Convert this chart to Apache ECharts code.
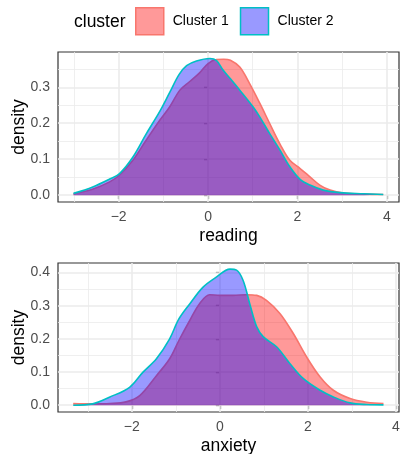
<!DOCTYPE html>
<html>
<head>
<meta charset="utf-8">
<script src="https://cdn.jsdelivr.net/npm/echarts@6/dist/echarts.min.js"></script>
<style>
  html, body { margin: 0; padding: 0; background: #fff; }
  #chart { width: 400px; height: 454px; }
</style>
</head>
<body>
<div id="chart"></div>
<script>
// Kernel density estimates of the two clusters, one panel per variable.
const clusterNames = ['Cluster 1', 'Cluster 2'];

// reading
const readingX1 = [-3.01, -2.6, -2.2, -1.98, -1.7, -1.4, -1.1, -0.86, -0.63, -0.41, -0.19, 0.0, 0.19, 0.35, 0.5, 0.71, 0.93, 1.16, 1.38, 1.61, 1.83, 2.06, 2.28, 2.5, 2.73, 3.03, 3.48, 3.92];
const readingD1 = [0.004, 0.016, 0.037, 0.056, 0.094, 0.150, 0.205, 0.245, 0.292, 0.316, 0.340, 0.366, 0.377, 0.378, 0.375, 0.356, 0.310, 0.255, 0.199, 0.142, 0.097, 0.074, 0.051, 0.028, 0.014, 0.006, 0.003, 0.002];
const readingX2 = [-3.01, -2.58, -2.2, -1.98, -1.68, -1.38, -1.08, -0.86, -0.65, -0.48, -0.26, 0.04, 0.19, 0.34, 0.49, 0.71, 1.01, 1.16, 1.38, 1.61, 1.83, 2.06, 2.28, 2.58, 2.95, 3.48, 3.92];
const readingD2 = [0.005, 0.023, 0.045, 0.060, 0.106, 0.171, 0.233, 0.285, 0.335, 0.360, 0.373, 0.380, 0.374, 0.347, 0.325, 0.292, 0.245, 0.217, 0.171, 0.125, 0.079, 0.044, 0.028, 0.014, 0.007, 0.004, 0.002];

// anxiety
const anxietyX1 = [-3.33, -2.89, -2.5, -2.13, -1.82, -1.44, -1.14, -0.93, -0.68, -0.46, -0.23, 0.0, 0.30, 0.61, 0.84, 1.06, 1.37, 1.67, 1.97, 2.28, 2.58, 2.96, 3.34, 3.72];
const anxietyD1 = [0.005, 0.004, 0.005, 0.010, 0.029, 0.089, 0.140, 0.195, 0.256, 0.306, 0.333, 0.331, 0.331, 0.333, 0.331, 0.316, 0.276, 0.216, 0.146, 0.085, 0.045, 0.020, 0.009, 0.005];
const anxietyX2 = [-3.33, -2.89, -2.51, -2.05, -1.75, -1.44, -1.14, -0.93, -0.68, -0.38, -0.08, 0.23, 0.38, 0.53, 0.68, 0.84, 0.99, 1.29, 1.59, 1.90, 2.28, 2.58, 2.96, 3.34, 3.72];
const anxietyD2 = [0.000, 0.004, 0.024, 0.054, 0.099, 0.140, 0.200, 0.260, 0.306, 0.356, 0.386, 0.410, 0.407, 0.376, 0.306, 0.236, 0.206, 0.176, 0.126, 0.080, 0.045, 0.025, 0.007, 0.002, 0.001];

// axis breaks
const xMajor = [-2, 0, 2, 4];
const xMinor = [-3, -1, 1, 3];
const readingYMajor = [0, 0.1, 0.2, 0.3];
const anxietyYMajor = [0, 0.1, 0.2, 0.3, 0.4];
const yMinor = [0.05, 0.15, 0.25, 0.35];

const FONT = 'Liberation Sans';
const fills = ['rgba(255,0,0,0.4)', 'rgba(0,0,255,0.4)'];
const outlines = ['#F8766D', '#00BFC4'];

function pairs(xs, ys) { return xs.map((x, i) => [x, ys[i]]); }

function gridLines(xs, ys, width) {
  return xs.map(v => ({ xAxis: v, lineStyle: { width } }))
    .concat(ys.map(v => ({ yAxis: v, lineStyle: { width } })));
}

function xAxisFor(idx, name, min, max) {
  return {
    type: 'value', gridIndex: idx, min, max,
    name, nameLocation: 'middle', nameGap: 25, nameMoveOverlap: false,
    nameTextStyle: { fontSize: 17.5, color: '#000', fontFamily: FONT },
    axisLine: { show: false },
    axisTick: { show: true, length: 4, customValues: xMajor, lineStyle: { color: '#333', width: 1.2 } },
    axisLabel: { customValues: xMajor, margin: 8, fontSize: 14, color: '#4D4D4D', fontFamily: FONT,
      formatter: v => String(v).replace('-', '\u2212') },
    splitLine: { show: false }
  };
}

function yAxisFor(idx, min, max, ticks) {
  return {
    type: 'value', gridIndex: idx, min, max,
    name: 'density', nameLocation: 'middle', nameGap: 30, nameRotate: 90, nameMoveOverlap: false,
    nameTextStyle: { fontSize: 17.5, color: '#000', fontFamily: FONT },
    axisLine: { show: false },
    axisTick: { show: true, length: 4, customValues: ticks, lineStyle: { color: '#333', width: 1.2 } },
    axisLabel: { customValues: ticks, margin: 8, fontSize: 14, color: '#4D4D4D', fontFamily: FONT,
      formatter: v => v.toFixed(1) },
    splitLine: { show: false }
  };
}

function densitySeries(idx, k, xs, ds, grid) {
  const s = {
    name: clusterNames[k], type: 'line', xAxisIndex: idx, yAxisIndex: idx,
    data: pairs(xs, ds), smooth: 0.35, showSymbol: false, symbol: 'none',
    z: 3 + k,
    itemStyle: { color: outlines[k] },
    lineStyle: { color: outlines[k], width: 1.6 },
    areaStyle: { color: fills[k], opacity: 1 },
    silent: true
  };
  if (grid) {
    s.markLine = {
      silent: true, symbol: 'none', z: 1, animation: false,
      label: { show: false },
      lineStyle: { color: '#EBEBEB', type: 'solid' },
      data: gridLines(xMajor, grid.yMajor, 1.6).concat(gridLines(xMinor, yMinor, 0.8))
    };
  }
  return s;
}

const chart = echarts.init(document.getElementById('chart'), null, { renderer: 'canvas' });
chart.setOption({
  animation: false,
  backgroundColor: '#fff',
  textStyle: { fontFamily: FONT },
  title: {
    text: 'cluster', left: 74, top: 13, padding: 0,
    textStyle: { fontSize: 17.5, fontWeight: 'normal', color: '#000', fontFamily: FONT }
  },
  legend: {
    left: 135, top: 7, padding: 0, icon: 'rect', itemWidth: 28, itemHeight: 27, itemGap: 11,
    selectedMode: false,
    textStyle: { fontSize: 14, color: '#000', fontFamily: FONT, padding: [0, 0, 0, 4] },
    data: clusterNames.map((n, k) => ({
      name: n, itemStyle: { color: fills[k], borderColor: outlines[k], borderWidth: 1.5 }
    }))
  },
  grid: [
    { left: 58, top: 52, width: 341, height: 150, outerBoundsMode: 'none', containLabel: false,
      show: true, borderColor: '#333', borderWidth: 1.2, backgroundColor: '#fff' },
    { left: 58, top: 263, width: 341, height: 149, outerBoundsMode: 'none', containLabel: false,
      show: true, borderColor: '#333', borderWidth: 1.2, backgroundColor: '#fff' }
  ],
  xAxis: [
    xAxisFor(0, 'reading', -3.357, 4.272),
    xAxisFor(1, 'anxiety', -3.677, 4.072)
  ],
  yAxis: [
    yAxisFor(0, -0.019, 0.398, readingYMajor),
    yAxisFor(1, -0.0205, 0.4286, anxietyYMajor)
  ],
  series: [
    densitySeries(0, 0, readingX1, readingD1, { yMajor: readingYMajor }),
    densitySeries(0, 1, readingX2, readingD2, null),
    densitySeries(1, 0, anxietyX1, anxietyD1, { yMajor: anxietyYMajor }),
    densitySeries(1, 1, anxietyX2, anxietyD2, null)
  ]
});
</script>
</body>
</html>
